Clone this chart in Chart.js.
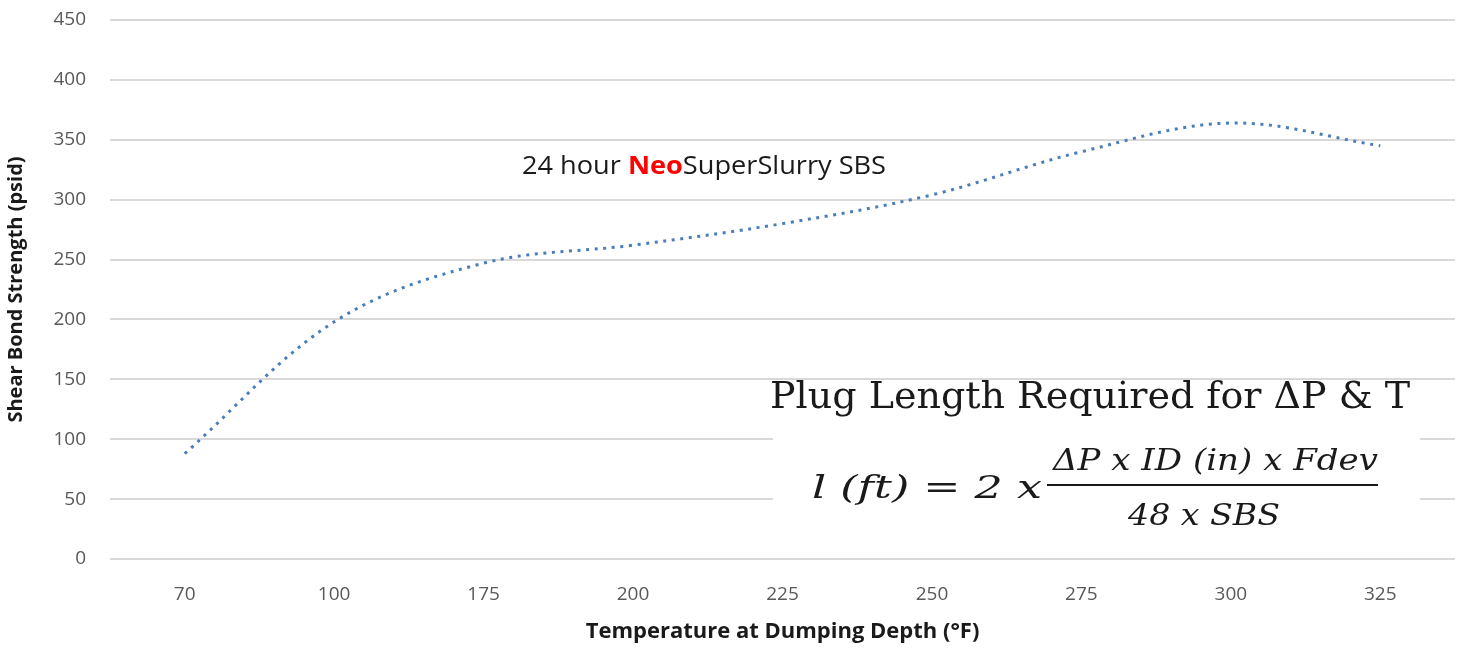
<!DOCTYPE html>
<html>
<head>
<meta charset="utf-8">
<script src="https://cdn.jsdelivr.net/npm/chart.js@4.4.1/dist/chart.umd.min.js"></script>
<style>
  html, body { margin: 0; padding: 0; background: #fff; }
  #wrap { width: 1461px; height: 649px; position: relative; }
</style>
</head>
<body>
<div id="wrap"><canvas id="sbsChart" width="1461" height="649"></canvas></div>
<script>
const temperatures = ['70', '100', '175', '200', '225', '250', '275', '300', '325'];
const shearBond = [88, 198, 247, 262, 280, 304, 340, 364, 345];
const yTicks = [0, 50, 100, 150, 200, 250, 300, 350, 400, 450];

// white box behind the formula that hides the gridlines, plus the text annotations
const annotations = {
    id: 'annotations',
    beforeDatasetsDraw(chart) {
        const ctx = chart.ctx;
        ctx.save();
        ctx.fillStyle = '#ffffff';
        ctx.fillRect(773, 384, 647, 165);
        ctx.restore();
    },
    afterDraw(chart) {
        const ctx = chart.ctx;
        ctx.save();
        ctx.textBaseline = 'alphabetic';

        // series label
        let x = 522;
        const parts = [['24 hour ', '#1a1a1a'], ['Neo', '#ff0000'], ['SuperSlurry SBS', '#1a1a1a']];
        const labelWidth = 364;
        let raw = 0;
        parts.forEach(([t, c]) => {
            ctx.font = (c === '#ff0000' ? 'bold ' : '') + '25px "Open Sans"';
            raw += ctx.measureText(t).width;
        });
        const k = labelWidth / raw;
        parts.forEach(([t, c]) => {
            ctx.font = (c === '#ff0000' ? 'bold ' : '') + '25px "Open Sans"';
            ctx.fillStyle = c;
            const w = ctx.measureText(t).width;
            ctx.save();
            ctx.translate(x, 174);
            ctx.scale(k, 1);
            ctx.fillText(t, 0, 0);
            ctx.restore();
            x += w * k;
        });

        // formula title
        ctx.fillStyle = '#1a1a1a';
        fitText(ctx, 'Plug Length Required for ΔP & T', 770, 408, 640, 38, '"DejaVu Serif"', '');

        // left side of formula
        fitText(ctx, 'l (ft) = 2 x', 812, 498, 230, 31, '"DejaVu Serif"', 'italic ');
        // numerator / denominator
        fitText(ctx, 'ΔP x ID (in) x Fdev', 1053, 470, 325, 30, '"DejaVu Serif"', 'italic ');
        fitText(ctx, '48 x SBS', 1128, 525, 152, 30, '"DejaVu Serif"', 'italic ');

        ctx.strokeStyle = '#1a1a1a';
        ctx.lineWidth = 2;
        ctx.beginPath();
        ctx.moveTo(1047, 485);
        ctx.lineTo(1378, 485);
        ctx.stroke();
        ctx.restore();
    }
};

function fitText(ctx, text, x, y, width, size, family, style) {
    ctx.font = style + size + 'px ' + family;
    const w = ctx.measureText(text).width;
    ctx.save();
    ctx.translate(x, y);
    ctx.scale(width / w, 1);
    ctx.fillText(text, 0, 0);
    ctx.restore();
}

const ctx = document.getElementById('sbsChart').getContext('2d');
new Chart(ctx, {
    type: 'line',
    data: {
        labels: temperatures,
        datasets: [{
            data: shearBond,
            borderColor: '#4a7ebb',
            borderWidth: 3,
            borderDash: [3, 5.6],
            borderCapStyle: 'butt',
            tension: 0.35,
            pointRadius: 0,
            fill: false
        }]
    },
    options: {
        responsive: false,
        animation: false,
        layout: { padding: { top: 20, right: 6, left: 0, bottom: 0 } },
        plugins: { legend: { display: false }, tooltip: { enabled: false } },
        scales: {
            x: {
                offset: true,
                grid: { display: false },
                border: { display: false },
                ticks: { color: '#595959', font: { family: 'Open Sans', size: 19 }, padding: 16, maxRotation: 0 },
                title: {
                    display: true,
                    text: 'Temperature at Dumping Depth (°F)',
                    color: '#1a1a1a',
                    font: { family: 'Open Sans', size: 22, weight: 'bold' },
                    padding: { top: 7 }
                },
                afterFit(scale) { scale.height = 90; scale.paddingLeft = 0; scale.paddingRight = 0; }
            },
            y: {
                min: 0,
                max: 450,
                afterBuildTicks(scale) { scale.ticks = yTicks.map(v => ({ value: v })); },
                grid: { color: '#d9d9d9', lineWidth: 2, drawTicks: false },
                border: { display: false },
                ticks: { color: '#595959', font: { family: 'Open Sans', size: 19 }, padding: 24 },
                title: {
                    display: true,
                    text: 'Shear Bond Strength (psid)',
                    color: '#1a1a1a',
                    font: { family: 'Open Sans', size: 20, weight: 'bold' },
                    padding: { top: 4, bottom: 0 }
                },
                afterFit(scale) { scale.width = 110; scale.paddingTop = 0; scale.paddingBottom = 0; }
            }
        }
    },
    plugins: [annotations]
});
</script>
</body>
</html>
